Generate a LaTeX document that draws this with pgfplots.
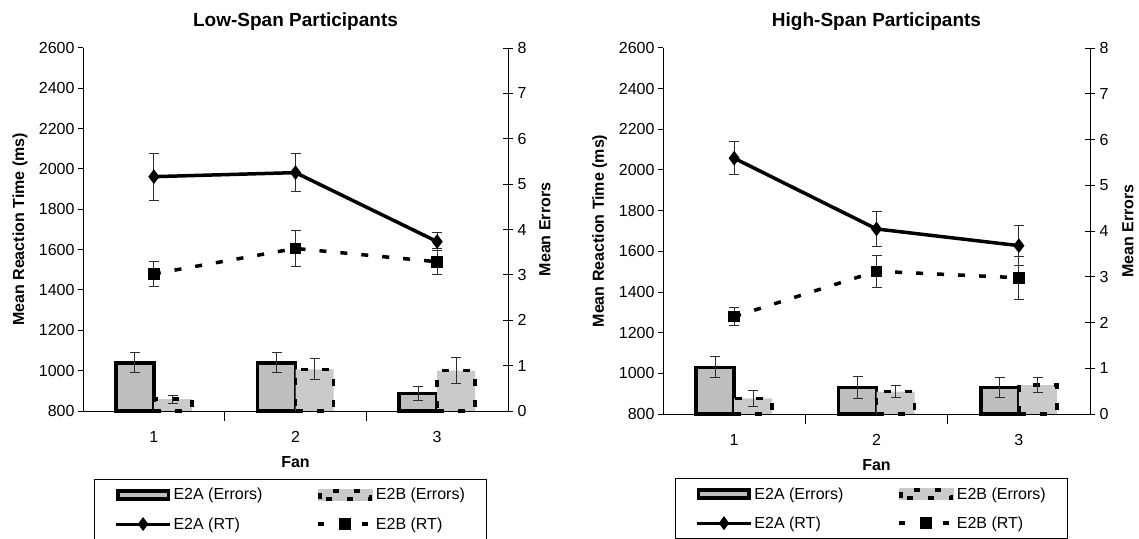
\documentclass[border=0pt]{standalone}
\usepackage{fontspec}
\setmainfont{Liberation Sans}
\usepackage{pgfplots}
\pgfplotsset{compat=1.18}
\definecolor{barA}{RGB}{190,190,190}
\definecolor{barB}{RGB}{202,202,202}
\definecolor{errc}{RGB}{45,45,45}

\pgfplotsset{
  common/.style={
    scale only axis, xmin=0.5, xmax=3.5, clip=false,
    /pgf/number format/assume math mode=true,
    /pgf/number format/1000 sep={},
    axis line style={-, line width=1pt, black},
    tick style={line width=1pt, black},
    ticklabel style={font=\fontsize{16}{19}\selectfont},
  },
  errstyle/.style={
    error bars/.cd, y dir=both, y explicit, error mark=|,
    error bar style={line width=0.9pt, errc, solid},
    error mark options={errc, mark size=5pt, line width=0.9pt, solid},
  },
  barax/.style={
    common, ymin=0, ymax=8, ytick={0,...,8},
    axis y line*=right, axis x line*=bottom,
    tick align=center, major tick length=10pt,
    xtick={1.5,2.5}, xticklabels={},
    ybar=0pt, bar width=38pt,
    ylabel={Mean Errors},
    every axis y label/.style={at={(axis description cs:#1,0.5)}, anchor=center, rotate=90,
      font=\bfseries\fontsize{16}{19}\selectfont},
    yticklabel style={xshift=1pt},
  },
  linax/.style={
    common, ymin=800, ymax=2600, ytick={800,1000,...,2600},
    axis y line*=left, axis x line*=bottom,
    tick align=outside, major tick length=5pt,
    xtick={1,2,3}, x tick style={draw=none},
    xticklabel style={anchor=center, yshift=-21pt},
    xlabel={Fan},
    every axis x label/.style={at={(axis description cs:0.5,0)}, anchor=center, yshift=-51pt,
      font=\bfseries\fontsize{16}{19}\selectfont},
    ylabel={Mean Reaction Time (ms)},
    every axis y label/.style={at={(axis description cs:-0.148,0.5)}, anchor=center, rotate=90,
      font=\bfseries\fontsize{16}{19}\selectfont},
    every axis title/.style={at={(axis description cs:0.5,1)}, anchor=center, yshift=26pt,
      font=\bfseries\fontsize{19}{22}\selectfont},
    legend columns=2,
    legend cell align=left,
  },
  legstyle/.style={legend style={at={(#1)}, anchor=north west, draw=black, line width=1pt,
    font=\fontsize{16}{19}\selectfont, inner xsep=20pt, inner ysep=7pt, row sep=12pt,
    /tikz/every even column/.append style={column sep=52pt}}},
  legA/.style={legend image code/.code={\draw[fill=barA,draw=black,line width=3.5pt] (1.75pt,-4pt) rectangle (52.25pt,4pt);}},
  legB/.style={legend image code/.code={\fill[barB] (0pt,-5.75pt) rectangle (54pt,5.75pt);
      \draw[black,line width=3.5pt,dash pattern=on 6pt off 15pt] (1.75pt,-4pt) rectangle (52.25pt,4pt);}},
  legC/.style={legend image code/.code={\draw[black,line width=3pt,mark=diamond*,mark size=4.5pt,mark repeat=2,mark phase=2]
      plot coordinates {(0pt,0pt) (27pt,0pt) (54pt,0pt)};}},
  legD/.style={legend image code/.code={\draw[black,line width=3.5pt,dash pattern=on 6pt off 16pt,mark=square*,mark size=4pt,mark options={solid},mark repeat=2,mark phase=2]
      plot coordinates {(0pt,0pt) (27pt,0pt) (54pt,0pt)};}},
}

\begin{document}
\begin{tikzpicture}
\useasboundingbox (0,0) rectangle (1139pt,538pt);

% ---------------- Low-span: bars (errors) ----------------
\begin{axis}[barax=1.087, at={(83pt,127pt)}, anchor=south west, width=425pt, height=363pt]
\addplot[fill=barA, draw=black, line width=3.5pt, errstyle]
  coordinates {(1,1.06) +- (0,0.22) (2,1.06) +- (0,0.22) (3,0.39) +- (0,0.15)};
\addplot[fill=barB, draw=black, line width=3.5pt, dash pattern=on 7pt off 14pt, errstyle]
  coordinates {(1,0.26) +- (0,0.09) (2,0.92) +- (0,0.23) (3,0.89) +- (0,0.28)};
\end{axis}

% ---------------- Low-span: lines (RT) ----------------
\begin{axis}[linax, at={(83pt,127pt)}, anchor=south west, width=425pt, height=363pt,
  title={Low-Span Participants}, legstyle={0.026,-0.187}]
\addlegendimage{legA}\addlegendentry{E2A (Errors)}
\addlegendimage{legB}\addlegendentry{E2B (Errors)}
\addlegendimage{legC}\addlegendentry{E2A (RT)}
\addlegendimage{legD}\addlegendentry{E2B (RT)}
\addplot[forget plot, black, line width=3.5pt, mark=diamond*, mark size=4.5pt, errstyle]
  coordinates {(1,1962) +- (0,117) (2,1982) +- (0,95) (3,1640) +- (0,45)};
\addplot[forget plot, black, line width=3.5pt, dash pattern=on 7pt off 14pt, mark=square*, mark size=4pt, mark options={solid}, errstyle]
  coordinates {(1,1480) +- (0,62) (2,1606) +- (0,89) (3,1540) +- (0,65)};
\end{axis}

% ---------------- High-span: bars (errors) ----------------
\begin{axis}[barax=1.089, at={(663pt,124pt)}, anchor=south west, width=427pt, height=366pt]
\addplot[fill=barA, draw=black, line width=3.5pt, errstyle]
  coordinates {(1,1.02) +- (0,0.23) (2,0.58) +- (0,0.25) (3,0.58) +- (0,0.22)};
\addplot[fill=barB, draw=black, line width=3.5pt, dash pattern=on 7pt off 14pt, errstyle]
  coordinates {(1,0.34) +- (0,0.17) (2,0.49) +- (0,0.13) (3,0.63) +- (0,0.16)};
\end{axis}

% ---------------- High-span: lines (RT) ----------------
\begin{axis}[linax, at={(663pt,124pt)}, anchor=south west, width=427pt, height=366pt,
  title={High-Span Participants}, legstyle={0.028,-0.175}]
\addlegendimage{legA}\addlegendentry{E2A (Errors)}
\addlegendimage{legB}\addlegendentry{E2B (Errors)}
\addlegendimage{legC}\addlegendentry{E2A (RT)}
\addlegendimage{legD}\addlegendentry{E2B (RT)}
\addplot[forget plot, black, line width=3.5pt, mark=diamond*, mark size=4.5pt, errstyle]
  coordinates {(1,2058) +- (0,80) (2,1710) +- (0,87) (3,1628) +- (0,98)};
\addplot[forget plot, black, line width=3.5pt, dash pattern=on 7pt off 14pt, mark=square*, mark size=4pt, mark options={solid}, errstyle]
  coordinates {(1,1279) +- (0,43) (2,1502) +- (0,79) (3,1470) +- (0,106)};
\end{axis}
\end{tikzpicture}
\end{document}
